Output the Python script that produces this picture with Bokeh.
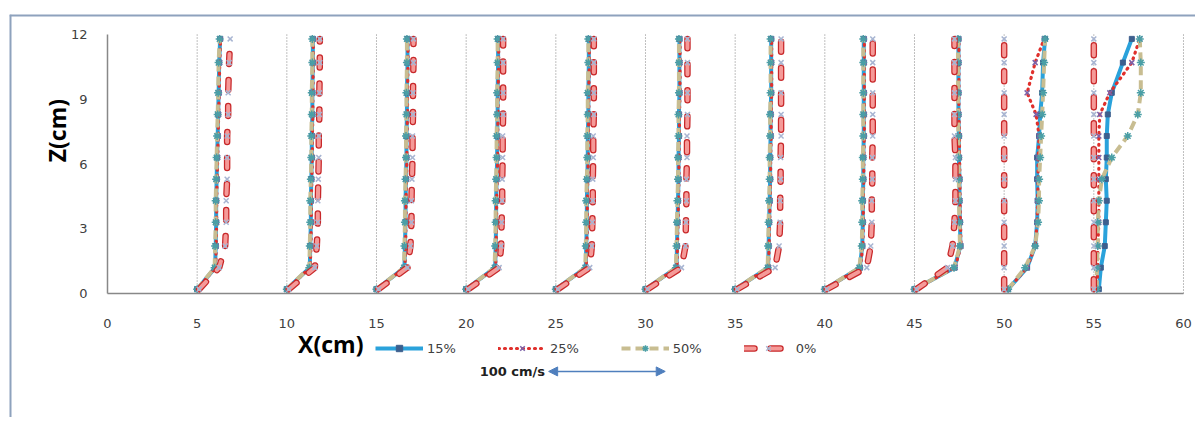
import math
from bokeh.plotting import figure
from bokeh.models import (Range1d, FixedTicker, Legend, LegendItem, Label,
                          Arrow, NormalHead, LinearAxis, Span)
from bokeh.embed import file_html
from bokeh.resources import INLINE

# ---------------- data ----------------
stations = [5, 10, 15, 20, 25, 30, 35, 40, 45, 50, 55]          # X (cm)
z_cm = [0.2, 1.2, 2.2, 3.3, 4.3, 5.3, 6.3, 7.3, 8.3, 9.3, 10.7, 11.8]  # Z (cm)
x_ticks = [0, 5, 10, 15, 20, 25, 30, 35, 40, 45, 50, 55, 60]
y_ticks = [0, 3, 6, 9, 12]
series_labels = ["15%", "25%", "50%", "0%"]
ref_speed = 100          # cm/s, reference arrow
ref_label = "100 cm/s"

# velocity (cm/s) per station (rows) and per height (columns)
u_15 = [
    [0.0, 15.4, 15.9, 16.3, 16.3, 16.7, 17.1, 17.6, 18.0, 18.4, 18.9, 19.7],
    [0.0, 19.7, 20.1, 20.6, 20.6, 21.0, 21.4, 21.4, 21.9, 21.9, 22.3, 22.3],
    [0.0, 24.0, 24.4, 24.9, 24.9, 25.3, 25.7, 25.7, 26.1, 26.1, 26.6, 26.6],
    [0.0, 24.9, 25.3, 25.7, 25.7, 26.1, 26.6, 26.6, 27.0, 27.0, 27.4, 27.4],
    [0.0, 25.7, 26.1, 26.6, 26.6, 27.0, 27.4, 27.4, 27.9, 27.9, 28.3, 28.3],
    [0.0, 26.6, 27.0, 27.4, 27.9, 28.3, 28.3, 28.7, 28.7, 29.1, 29.1, 29.1],
    [0.0, 28.3, 28.7, 29.1, 29.6, 30.0, 30.0, 30.4, 30.4, 30.9, 30.9, 30.9],
    [0.0, 30.0, 32.1, 32.6, 32.6, 33.0, 33.0, 33.4, 33.4, 33.4, 33.4, 33.4],
    [0.0, 34.3, 39.4, 39.0, 38.6, 38.6, 38.1, 38.1, 37.7, 37.7, 37.7, 37.7],
    [3.4, 19.7, 26.6, 28.3, 28.7, 28.3, 28.3, 30.0, 30.9, 32.6, 33.4, 35.1],
    [4.3, 6.0, 9.4, 10.3, 11.1, 10.3, 11.1, 11.1, 12.0, 15.4, 24.9, 32.6],
]
u_25 = [
    [0.0, 15.9, 16.3, 16.7, 16.7, 17.1, 17.6, 18.0, 18.4, 18.9, 19.3, 20.1],
    [0.0, 20.1, 20.6, 21.0, 21.0, 21.4, 21.9, 21.9, 22.3, 22.3, 22.7, 22.7],
    [0.0, 24.4, 24.9, 25.3, 25.3, 25.7, 26.1, 26.1, 26.6, 26.6, 27.0, 27.0],
    [0.0, 25.3, 25.7, 26.1, 26.1, 26.6, 27.0, 27.0, 27.4, 27.4, 27.9, 27.9],
    [0.0, 26.1, 26.6, 27.0, 27.0, 27.4, 27.9, 27.9, 28.3, 28.3, 28.7, 28.7],
    [0.0, 27.0, 27.4, 27.9, 28.3, 28.7, 28.7, 29.1, 29.1, 29.6, 29.6, 29.6],
    [0.0, 28.7, 29.1, 29.6, 30.0, 30.4, 30.4, 30.9, 30.9, 31.3, 31.3, 31.3],
    [0.0, 30.4, 32.6, 33.0, 33.0, 33.4, 33.4, 33.9, 33.9, 33.9, 33.9, 33.9],
    [0.0, 34.8, 39.9, 39.4, 39.0, 39.0, 38.6, 38.6, 38.1, 38.1, 38.1, 38.1],
    [3.4, 19.7, 26.6, 28.3, 28.7, 29.1, 29.1, 30.0, 27.4, 19.7, 26.6, 34.3],
    [2.6, 3.4, 3.4, 4.3, 4.3, 4.3, 4.3, 4.3, 5.1, 13.7, 32.6, 39.4],
]
u_50 = [
    [0.0, 15.0, 15.4, 15.9, 15.9, 16.3, 16.7, 17.1, 17.6, 18.0, 18.4, 19.3],
    [0.0, 19.3, 19.7, 20.1, 20.1, 20.6, 21.0, 21.0, 21.4, 21.4, 21.9, 21.9],
    [0.0, 23.6, 24.0, 24.4, 24.4, 24.9, 25.3, 25.3, 25.7, 25.7, 26.1, 26.1],
    [0.0, 24.4, 24.9, 25.3, 25.3, 25.7, 26.1, 26.1, 26.6, 26.6, 27.0, 27.0],
    [0.0, 25.3, 25.7, 26.1, 26.1, 26.6, 27.0, 27.0, 27.4, 27.4, 27.9, 27.9],
    [0.0, 26.1, 26.6, 27.0, 27.4, 27.9, 27.9, 28.3, 28.3, 28.7, 28.7, 28.7],
    [0.0, 27.9, 28.3, 28.7, 29.1, 29.6, 29.6, 30.0, 30.0, 30.4, 30.4, 30.4],
    [0.0, 29.6, 31.7, 32.1, 32.1, 32.6, 32.6, 33.0, 33.0, 33.0, 33.0, 33.0],
    [0.0, 33.9, 39.0, 38.6, 38.1, 38.1, 37.7, 37.7, 37.3, 37.3, 37.3, 37.3],
    [3.4, 18.0, 26.6, 29.1, 29.9, 30.0, 30.9, 31.7, 32.6, 33.4, 34.3, 35.1],
    [2.6, 2.6, 3.4, 3.4, 4.3, 6.9, 15.4, 29.1, 37.7, 40.3, 40.3, 39.4],
]
u_0 = [
    [1.7, 18.9, 24.0, 24.9, 24.9, 25.7, 25.7, 25.7, 26.6, 26.6, 27.4, 28.3],
    [1.7, 24.0, 25.7, 26.6, 26.6, 27.0, 27.4, 27.4, 27.9, 27.9, 28.3, 28.3],
    [1.7, 26.6, 29.1, 30.0, 30.0, 30.4, 30.9, 30.9, 31.3, 31.3, 31.7, 31.7],
    [1.7, 28.3, 30.0, 30.4, 30.9, 30.9, 31.3, 31.3, 31.7, 31.7, 31.7, 31.7],
    [1.7, 29.1, 30.9, 31.3, 31.7, 31.7, 32.1, 32.1, 32.6, 32.6, 32.6, 32.6],
    [1.7, 30.9, 34.3, 34.7, 35.1, 35.1, 35.6, 35.6, 36.0, 36.0, 36.0, 36.0],
    [1.7, 34.3, 37.7, 38.6, 38.6, 39.0, 39.0, 39.4, 39.4, 39.4, 39.4, 39.4],
    [1.7, 36.0, 39.4, 40.3, 40.3, 40.7, 40.7, 41.1, 41.1, 41.1, 41.1, 41.1],
    [1.7, 28.3, 32.6, 34.3, 35.1, 35.1, 35.1, 34.3, 34.3, 34.3, 34.3, 34.3],
    [0.0, 0.0, 0.0, 0.0, 0.0, 0.0, 0.0, 0.0, 0.0, 0.0, 0.0, 0.0],
    [0.0, 0.0, 0.0, 0.0, 0.0, 0.0, 0.0, 0.0, 0.0, 0.0, 0.0, 0.0],
]

# ---------------- styling constants ----------------
SCALE = 0.065            # x-axis units drawn per cm/s of velocity
BLUE = "#2aa2db"
RED = "#e0302c"
TAN = "#c8bd91"
AXIS_GREY = "#888888"
TEXT = "#404040"
ARROW_C = "#4f7fbd"
BORDER_C = "#8ea2bd"
TICK_FONT = "DejaVu Sans"

# frame = whole chart area; plotting region (0..60, 0..12) sits inside it
X_LO, X_HI = -5.465, 60.67
Y_LO, Y_HI = -5.745, 12.93


def profiles(u_rows):
    xs, ys = [], []
    for st, row in zip(stations, u_rows):
        xs.append([st + u * SCALE for u in row])
        ys.append(list(z_cm))
    return xs, ys


def flat(xs, ys):
    fx, fy = [], []
    for a, b in zip(xs, ys):
        fx += a
        fy += b
    return fx, fy


p = figure(width=1195, height=417,
           x_range=Range1d(X_LO, X_HI), y_range=Range1d(Y_LO, Y_HI),
           output_backend="svg", toolbar_location=None,
           x_axis_location=None, y_axis_location=None,
           min_border_left=9, min_border_right=0,
           min_border_top=14, min_border_bottom=0)
p.outline_line_color = None
p.background_fill_color = "white"
p.border_fill_color = "white"
p.xgrid.visible = False
p.ygrid.visible = False

# chart-area border (top and left edges)
p.add_layout(Span(location=Y_HI, dimension="width", line_color=BORDER_C, line_width=4))
p.add_layout(Span(location=X_LO, dimension="height", line_color=BORDER_C, line_width=4))

# vertical dotted gridlines between z=0 and z=12
p.segment(x0=x_ticks[1:], y0=[y_ticks[0]] * (len(x_ticks) - 1),
          x1=x_ticks[1:], y1=[y_ticks[-1]] * (len(x_ticks) - 1),
          line_color="#7f7f7f", line_dash="1 2", line_width=1)

# axes crossing at the origin
xaxis = LinearAxis(ticker=FixedTicker(ticks=x_ticks), fixed_location=0,
                   bounds=(x_ticks[0], x_ticks[-1]))
yaxis = LinearAxis(ticker=FixedTicker(ticks=y_ticks), fixed_location=0,
                   bounds=(y_ticks[0], y_ticks[-1]))
for ax in (xaxis, yaxis):
    ax.axis_line_color = AXIS_GREY
    ax.axis_line_width = 1.5
    ax.major_tick_line_color = None
    ax.minor_tick_line_color = None
    ax.major_label_text_font = TICK_FONT
    ax.major_label_text_font_size = "13px"
    ax.major_label_text_color = TEXT
xaxis.major_label_standoff = 19
yaxis.major_label_standoff = 14
p.add_layout(xaxis, "below")
p.add_layout(yaxis, "left")

# series
xs15, ys15 = profiles(u_15)
xs25, ys25 = profiles(u_25)
xs50, ys50 = profiles(u_50)
xs0, ys0 = profiles(u_0)

r15 = p.multi_line(xs15, ys15, line_color=BLUE, line_width=4)
fx, fy = flat(xs15, ys15)
m15 = p.scatter(fx, fy, marker="square", size=5, fill_color="#3d5f8e",
                line_color="#3d5f8e")

r25 = p.multi_line(xs25, ys25, line_color=RED, line_width=3.2,
                   line_dash="1 5", line_cap="round")
fx, fy = flat(xs25, ys25)
m25 = p.scatter(fx, fy, marker="x", size=7, line_color="#7d62a8",
                line_width=1.5)

r50 = p.multi_line(xs50, ys50, line_color=TAN, line_width=4,
                   line_dash="9 5")
fx, fy = flat(xs50, ys50)
m50 = p.scatter(fx, fy, marker="asterisk", size=8, line_color="#4a9fa6",
                line_width=1.5)

r0a = p.multi_line(xs0, ys0, line_color="#c8282a", line_width=6.5,
                   line_dash="10 16", line_cap="round")
r0b = p.multi_line(xs0, ys0, line_color="#f59a98", line_width=4,
                   line_dash="10 16", line_cap="round")
fx, fy = flat(xs0, ys0)
m0 = p.scatter(fx, fy, marker="x", size=7, line_color="#a8b5d2",
               line_width=1.5)

legend = Legend(items=[
    LegendItem(label=series_labels[0], renderers=[r15, m15]),
    LegendItem(label=series_labels[1], renderers=[r25, m25]),
    LegendItem(label=series_labels[2], renderers=[r50, m50]),
    LegendItem(label=series_labels[3], renderers=[r0a, r0b, m0]),
], orientation="horizontal", location=(366, 61),
    glyph_width=48, glyph_height=16, label_standoff=4, spacing=42,
    padding=0, margin=0, border_line_color=None, background_fill_alpha=0,
    label_text_font=TICK_FONT, label_text_font_size="13px",
    label_text_color=TEXT)
p.add_layout(legend)

# axis titles
p.add_layout(Label(x=-2.8, y=7.55, text="Z(cm)", angle=math.pi / 2,
                   text_align="center", text_baseline="middle",
                   text_font="Open Sans", text_font_style="bold",
                   text_font_size="23px", text_color="black"))
p.add_layout(Label(x=12.45, y=-2.36, text="X(cm)",
                   text_align="center", text_baseline="middle",
                   text_font="Open Sans", text_font_style="bold",
                   text_font_size="23px", text_color="black"))

# reference velocity arrow
ax0 = 24.6
ay = -3.61
p.add_layout(Arrow(start=NormalHead(size=9, fill_color=ARROW_C, line_color=ARROW_C),
                   end=NormalHead(size=9, fill_color=ARROW_C, line_color=ARROW_C),
                   x_start=ax0, y_start=ay, x_end=ax0 + ref_speed * SCALE, y_end=ay,
                   line_color=ARROW_C, line_width=1.5))
p.add_layout(Label(x=ax0 - 0.2, y=ay, text=ref_label, text_align="right",
                   text_baseline="middle", text_font="DejaVu Sans",
                   text_font_style="bold", text_font_size="13px",
                   text_color="#202020"))

open("out.html", "w").write(file_html(p, INLINE))
